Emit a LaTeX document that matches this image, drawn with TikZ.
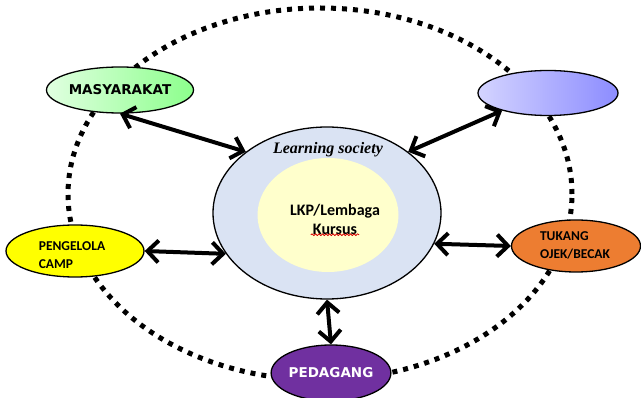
\documentclass[tikz,border=0pt]{standalone}
\usepackage{fontspec}
\setmainfont{Liberation Serif}
\newfontfamily\calibfont{Carlito}
\newfontfamily\verdfont{DejaVu Sans}
\usetikzlibrary{shapes.geometric,arrows.meta,decorations.pathmorphing}
\definecolor{lsblue}{RGB}{218,227,243}
\definecolor{lkpyellow}{RGB}{255,255,204}
\definecolor{campyellow}{RGB}{255,255,0}
\definecolor{ojekorange}{RGB}{237,125,49}
\definecolor{dagangpurple}{RGB}{112,48,160}
\begin{document}
\begin{tikzpicture}[x=1pt, y=-1pt, line join=round, line cap=round, >={Straight Barb[length=11pt,width=22pt]},
		bubble/.style={ellipse, draw, line width=1.3pt, inner sep=0pt},
		link/.style={<->, line width=4pt},
		calib/.style={font=\calibfont\bfseries\fontsize{13.5}{18}\selectfont},
		verd/.style={font=\verdfont\bfseries\fontsize{13.5}{15}\selectfont}]
		\useasboundingbox (0,0) rectangle (641,398);
		\draw[line width=5pt, line cap=butt, dash pattern=on 5pt off 6pt] (320,194) ellipse [x radius=252pt, y radius=186pt];
		\node[bubble, fill=lsblue, minimum width=228pt, minimum height=172pt] (ls) at (327,213) {};
		\node[ellipse, fill=lkpyellow, minimum width=141pt, minimum height=114pt, inner sep=0pt] (lk) at (328,215) {};
		\node[font=\bfseries\itshape\fontsize{16}{18}\selectfont] (lt) at (328,150) {Learning society};
		\node[calib, font=\calibfont\bfseries\fontsize{16}{19}\selectfont, align=center] (lkp) at (335,219) {LKP/Lembaga\\Kursus};
		\draw[red!85!black, line width=0.8pt, decorate, decoration={snake, amplitude=0.9pt, segment length=3.5pt}] ([xshift=-24pt,yshift=3pt]lkp.south) -- ([xshift=24pt,yshift=3pt]lkp.south);
		\node[bubble, verd, left color=green!12, right color=green!45, minimum width=147pt, minimum height=46pt] (mas) at (120,90) {MASYARAKAT};
		\node[bubble, left color=blue!17, right color=blue!45, minimum width=140pt, minimum height=45pt] (blu) at (548,93) {};
		\node[bubble, fill=campyellow, minimum width=138pt, minimum height=52pt] (pen) at (75,251) {};
		\node[calib, align=left] (pent) at (72,255) {PENGELOLA\\CAMP};
		\node[bubble, fill=ojekorange, minimum width=129pt, minimum height=52pt] (tuk) at (576,246) {};
		\node[calib, align=left] (tukt) at (575,245) {TUKANG\\OJEK/BECAK};
		\node[bubble, verd, fill=dagangpurple, text=white, minimum width=113pt, minimum height=56pt] (ped) at (331,373) {PEDAGANG};
		\draw[link] (mas.south) -- (ls.143);
		\draw[link] (ls.37) -- (blu.201);
		\draw[link] (pen.east) -- (ls.202);
		\draw[link] (ls.-16) -- (tuk.west);
		\draw[link] (ls.south) -- (ped.north);
	\end{tikzpicture}
\end{document}
